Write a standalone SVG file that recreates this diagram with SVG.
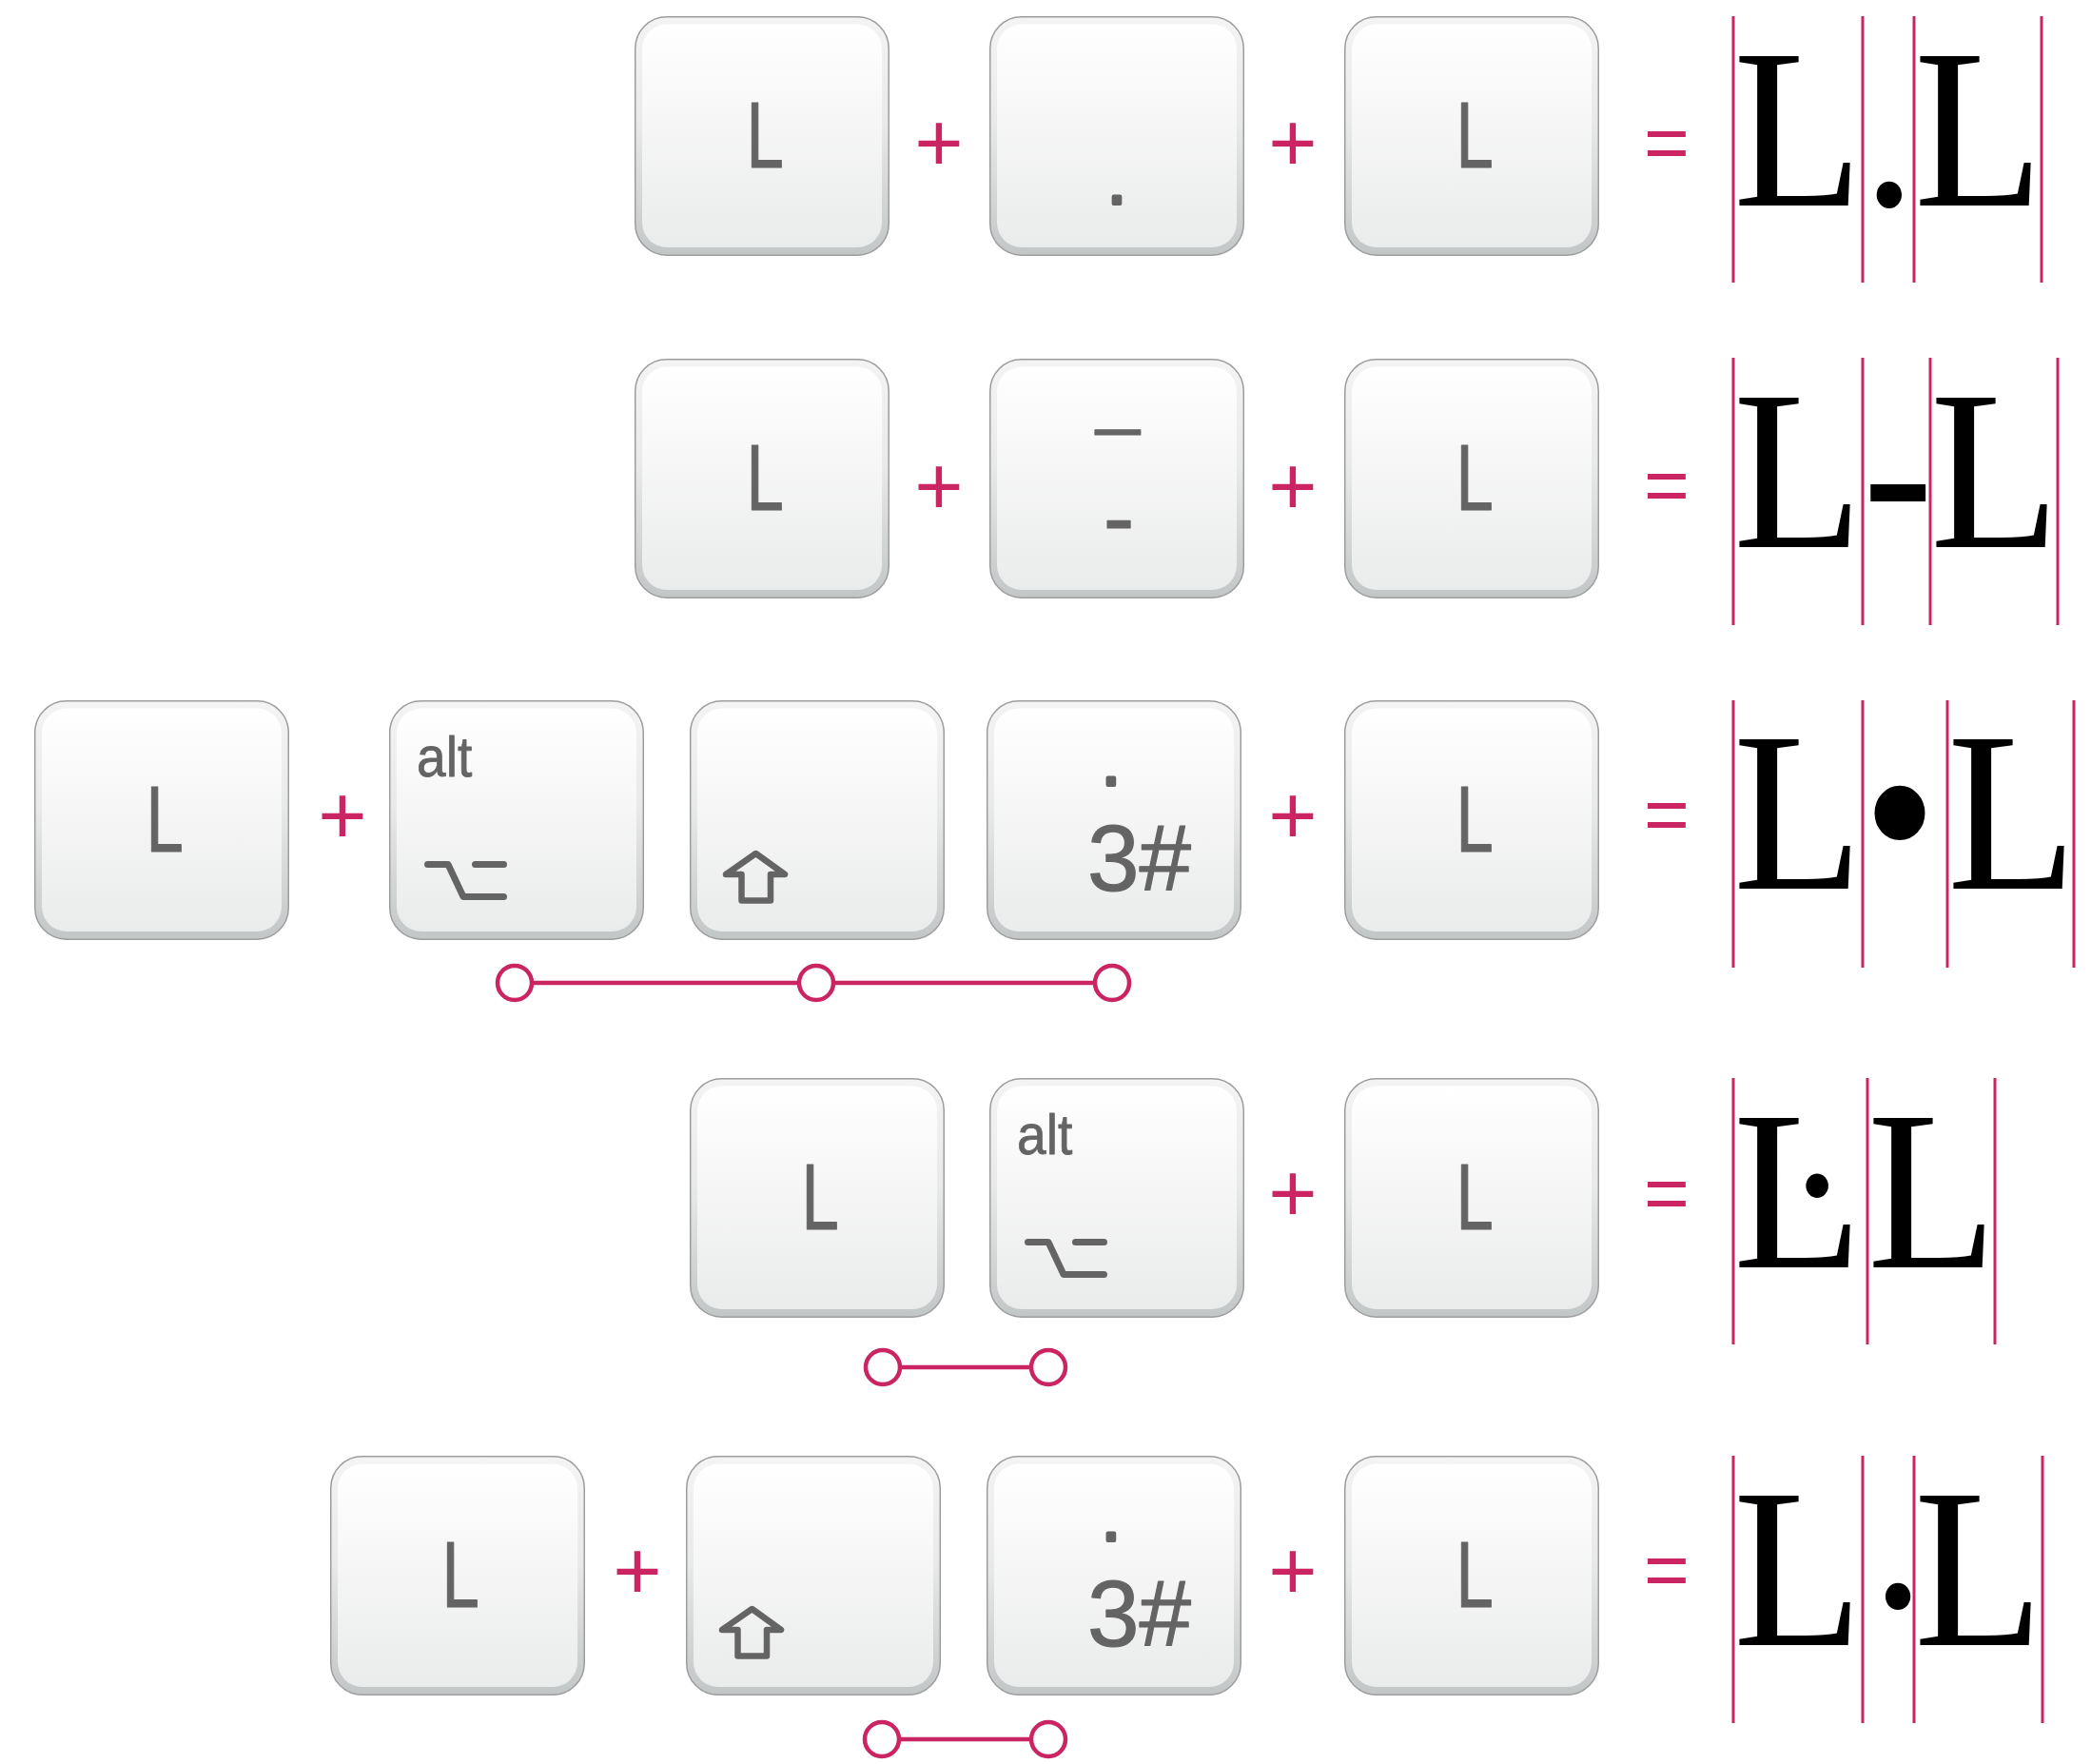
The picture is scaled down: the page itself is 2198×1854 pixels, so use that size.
<svg xmlns="http://www.w3.org/2000/svg" xmlns:xlink="http://www.w3.org/1999/xlink" width="2198" height="1854" viewBox="0 0 2198 1854">
  <style>
    .lbl { font-family: "Liberation Sans", Arial, sans-serif; font-size: 98px; fill: #646464; stroke: #646464; stroke-width: 1.2; stroke-linejoin: round; }
    .alt { font-size: 60px; stroke-width: 0.8; }
    .dot { font-size: 70px; stroke-width: 4; }
    .icon { fill: none; stroke: #646464; stroke-linecap: round; stroke-linejoin: round; }
    .op { font-family: "Liberation Sans", Arial, sans-serif; fill: #cb2462; text-anchor: middle; }
    .plus { font-size: 88px; }
    .eq { font-size: 82px; }
    .big { font-family: "Liberation Serif", "Times New Roman", serif; font-size: 240px; fill: #000; }
    .guide line { stroke: #cb2462; stroke-width: 3; }
    .conn line { stroke: #cb2462; stroke-width: 4.5; }
    .conn circle { fill: #fff; stroke: #cb2462; stroke-width: 4.5; }
  </style>
  <defs>
    <linearGradient id="rim" x1="0" y1="0" x2="0" y2="1">
      <stop offset="0" stop-color="#f4f4f4"/>
      <stop offset="0.45" stop-color="#e8e9e9"/>
      <stop offset="1" stop-color="#c3c6c7"/>
    </linearGradient>
    <linearGradient id="face" x1="0" y1="0" x2="0" y2="1">
      <stop offset="0" stop-color="#ffffff"/>
      <stop offset="0.35" stop-color="#f8f8f8"/>
      <stop offset="1" stop-color="#eaebeb"/>
    </linearGradient>
    <g id="cap">
      <rect x="0.75" y="0.75" width="266.5" height="250.5" rx="33" fill="url(#rim)" stroke="#9d9d9d" stroke-width="1.5"/>
      <rect x="8" y="8.5" width="252" height="234.5" rx="26" fill="url(#face)"/>
    </g>
    <!-- option key symbol -->
    <path id="optSym" d="M40.5,172.5 H62 L78,206.5 H120.5 M90.5,172.5 H120.5"/>
    <!-- shift key arrow -->
    <path id="shiftSym" d="M69.5,161 L100,183 H85 V210.5 H54.5 V183 H38 Z"/>
  </defs>

  <rect width="2198" height="1854" fill="#fff"/>

  <!-- ===== Row 1 : L + . + L ===== -->
  <g id="r1-key-l1" transform="translate(667,17)">
    <use href="#cap"/>
    <text class="lbl" transform="translate(137,159) scale(0.72,1)" text-anchor="middle">L</text>
  </g>
  <g id="r1-key-period" transform="translate(1040,17)">
    <use href="#cap"/>
    <text class="lbl dot" x="134" y="196.5" text-anchor="middle">.</text>
  </g>
  <g id="r1-key-l2" transform="translate(1413,17)">
    <use href="#cap"/>
    <text class="lbl" transform="translate(137,159) scale(0.72,1)" text-anchor="middle">L</text>
  </g>

  <!-- ===== Row 2 : L + - + L ===== -->
  <g id="r2-key-l1" transform="translate(667,377)">
    <use href="#cap"/>
    <text class="lbl" transform="translate(137,159) scale(0.72,1)" text-anchor="middle">L</text>
  </g>
  <g id="r2-key-hyphen" transform="translate(1040,377)">
    <use href="#cap"/>
    <text class="lbl" text-anchor="middle"><tspan x="135" y="64" style="font-size:82px">_</tspan><tspan x="136" y="200">-</tspan></text>
  </g>
  <g id="r2-key-l2" transform="translate(1413,377)">
    <use href="#cap"/>
    <text class="lbl" transform="translate(137,159) scale(0.72,1)" text-anchor="middle">L</text>
  </g>

  <!-- ===== Row 3 : L + alt shift 3 + L ===== -->
  <g id="r3-key-l1" transform="translate(36,736)">
    <use href="#cap"/>
    <text class="lbl" transform="translate(137,159) scale(0.72,1)" text-anchor="middle">L</text>
  </g>
  <g id="r3-key-alt" transform="translate(409,736)">
    <use href="#cap"/>
    <text class="lbl alt" transform="translate(29,80) scale(0.92,1)">alt</text>
    <use href="#optSym" class="icon" stroke-width="7"/>
  </g>
  <g id="r3-key-shift" transform="translate(725,736)">
    <use href="#cap"/>
    <use href="#shiftSym" class="icon" stroke-width="6.5"/>
  </g>
  <g id="r3-key-3" transform="translate(1037,736)">
    <use href="#cap"/>
    <text class="lbl"><tspan class="dot" x="131" y="103.5" text-anchor="middle">·</tspan><tspan x="106" y="200">3#</tspan></text>
  </g>
  <g id="r3-key-l2" transform="translate(1413,736)">
    <use href="#cap"/>
    <text class="lbl" transform="translate(137,159) scale(0.72,1)" text-anchor="middle">L</text>
  </g>

  <!-- ===== Row 4 : L alt + L ===== -->
  <g id="r4-key-l1" transform="translate(725,1133)">
    <use href="#cap"/>
    <text class="lbl" transform="translate(137,159) scale(0.72,1)" text-anchor="middle">L</text>
  </g>
  <g id="r4-key-alt" transform="translate(1040,1133)">
    <use href="#cap"/>
    <text class="lbl alt" transform="translate(29,80) scale(0.92,1)">alt</text>
    <use href="#optSym" class="icon" stroke-width="7"/>
  </g>
  <g id="r4-key-l2" transform="translate(1413,1133)">
    <use href="#cap"/>
    <text class="lbl" transform="translate(137,159) scale(0.72,1)" text-anchor="middle">L</text>
  </g>

  <!-- ===== Row 5 : L + shift 3 + L ===== -->
  <g id="r5-key-l1" transform="translate(347,1530)">
    <use href="#cap"/>
    <text class="lbl" transform="translate(137,159) scale(0.72,1)" text-anchor="middle">L</text>
  </g>
  <g id="r5-key-shift" transform="translate(721,1530)">
    <use href="#cap"/>
    <use href="#shiftSym" class="icon" stroke-width="6.5"/>
  </g>
  <g id="r5-key-3" transform="translate(1037,1530)">
    <use href="#cap"/>
    <text class="lbl"><tspan class="dot" x="131" y="103.5" text-anchor="middle">·</tspan><tspan x="106" y="200">3#</tspan></text>
  </g>
  <g id="r5-key-l2" transform="translate(1413,1530)">
    <use href="#cap"/>
    <text class="lbl" transform="translate(137,159) scale(0.72,1)" text-anchor="middle">L</text>
  </g>

  <!-- operators -->
  <g id="operators">
    <text class="op plus" x="987" y="180">+</text>
    <text class="op plus" x="1359" y="180">+</text>
    <text class="op eq" x="1752" y="178">=</text>

    <text class="op plus" x="987" y="541">+</text>
    <text class="op plus" x="1359" y="541">+</text>
    <text class="op eq" x="1752" y="538">=</text>

    <text class="op plus" x="360" y="887">+</text>
    <text class="op plus" x="1359" y="887">+</text>
    <text class="op eq" x="1752" y="884">=</text>

    <text class="op plus" x="1359" y="1284">+</text>
    <text class="op eq" x="1752" y="1282">=</text>

    <text class="op plus" x="670" y="1681">+</text>
    <text class="op plus" x="1359" y="1681">+</text>
    <text class="op eq" x="1752" y="1678">=</text>
  </g>

  <!-- typeset results with advance-width guides -->
  <g id="result-1">
    <g class="guide">
      <line x1="1822" y1="17" x2="1822" y2="297"/><line x1="1958" y1="17" x2="1958" y2="297"/>
      <line x1="2012" y1="17" x2="2012" y2="297"/><line x1="2146" y1="17" x2="2146" y2="297"/>
    </g>
    <text class="big" transform="translate(1822,216) scale(0.928,1)" x="0 146.6 204.7">L.L</text>
  </g>
  <g id="result-2">
    <g class="guide">
      <line x1="1822" y1="376" x2="1822" y2="657"/><line x1="1958" y1="376" x2="1958" y2="657"/>
      <line x1="2029" y1="376" x2="2029" y2="657"/><line x1="2163" y1="376" x2="2163" y2="657"/>
    </g>
    <text class="big" transform="translate(1822,575) scale(0.928,1)" x="0 146.6 223.1">L-L</text>
  </g>
  <g id="result-3">
    <g class="guide">
      <line x1="1822" y1="736" x2="1822" y2="1017"/><line x1="1958" y1="736" x2="1958" y2="1017"/>
      <line x1="2047" y1="736" x2="2047" y2="1017"/><line x1="2180" y1="736" x2="2180" y2="1017"/>
    </g>
    <text class="big" transform="translate(1822,934) scale(0.928,1)" x="0 146.6 242.5">L•L</text>
  </g>
  <g id="result-4">
    <g class="guide">
      <line x1="1822" y1="1133" x2="1822" y2="1413"/><line x1="1963" y1="1133" x2="1963" y2="1413"/>
      <line x1="2097" y1="1133" x2="2097" y2="1413"/>
    </g>
    <text class="big" transform="translate(1822,1332) scale(0.928,1)" x="0 151.9">ĿL</text>
  </g>
  <g id="result-5">
    <g class="guide">
      <line x1="1822" y1="1530" x2="1822" y2="1811"/><line x1="1958" y1="1530" x2="1958" y2="1811"/>
      <line x1="2012" y1="1530" x2="2012" y2="1811"/><line x1="2147" y1="1530" x2="2147" y2="1811"/>
    </g>
    <text class="big" transform="translate(1822,1729) scale(0.928,1)" x="0 146.6 204.7" y="0 28 0">L·L</text>
  </g>

  <!-- keys held together -->
  <g id="connectors" class="conn">
    <line x1="541" y1="1033" x2="1169" y2="1033"/>
    <circle cx="541" cy="1033" r="18"/>
    <circle cx="858" cy="1033" r="18"/>
    <circle cx="1169" cy="1033" r="18"/>

    <line x1="928" y1="1437" x2="1102" y2="1437"/>
    <circle cx="928" cy="1437" r="18"/>
    <circle cx="1102" cy="1437" r="18"/>

    <line x1="927" y1="1828" x2="1102" y2="1828"/>
    <circle cx="927" cy="1828" r="18"/>
    <circle cx="1102" cy="1828" r="18"/>
  </g>
</svg>
